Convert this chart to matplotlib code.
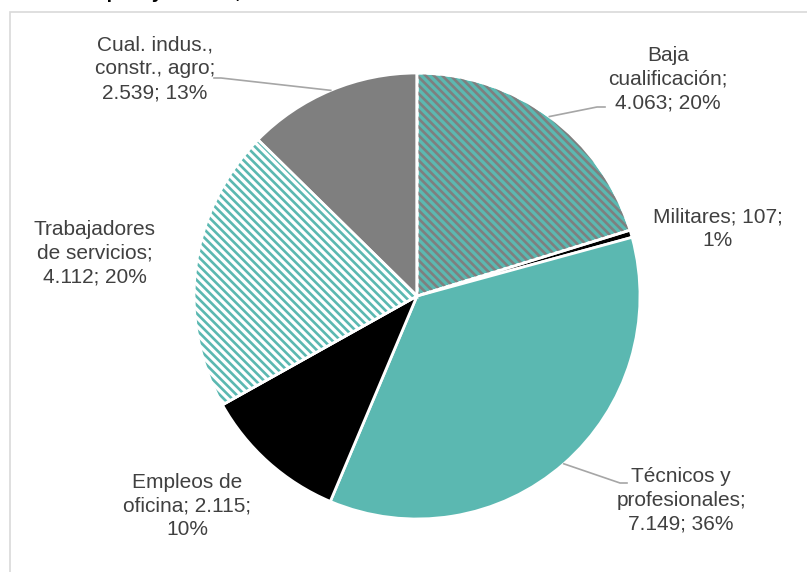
import matplotlib
matplotlib.use("Agg")
import matplotlib.pyplot as plt
from matplotlib.patches import Wedge, Rectangle
from matplotlib.lines import Line2D
import numpy as np

plt.rcParams['font.family'] = ['Liberation Sans', 'DejaVu Sans']
plt.rcParams['hatch.linewidth'] = 1.9

categories = ["Baja\ncualificación", "Militares", "Técnicos y\nprofesionales",
              "Empleos de\noficina", "Trabajadores\nde servicios", "Cual. indus.,\nconstr., agro"]
values = [4063, 107, 7149, 2115, 4112, 2539]
label_texts = ["Baja\ncualificación;\n4.063; 20%", "Militares; 107;\n1%",
               "Técnicos y\nprofesionales;\n7.149; 36%", "Empleos de\noficina; 2.115;\n10%",
               "Trabajadores\nde servicios;\n4.112; 20%", "Cual. indus.,\nconstr., agro;\n2.539; 13%"]

TEAL = "#5bb8b1"
GRAY = "#7f7f7f"
base_colors = [TEAL, "#000000", TEAL, "#000000", "#ffffff", GRAY]
hatch_colors = [GRAY, None, None, None, TEAL, None]

W, H = 807, 572
fig = plt.figure(figsize=(W / 100, H / 100), dpi=100)

def fx(px):
    return px / W

def fy(py):
    return 1 - py / H

# frame
fig.patches.append(Rectangle((fx(10), fy(H + 20)), fx(W + 20), (H + 8) / H,
                             transform=fig.transFigure, fill=False, edgecolor="#d9d9d9", linewidth=1.2))

# cut-off title (only descenders visible in the reference)
fig.text(fx(2), fy(-1.5), "Tasa de empleo y edades, 2019", fontsize=14,
         fontweight='bold', color='#000000', va='baseline', ha='left')

cx, cy, R = 417, 296, 223
ax = fig.add_axes([fx(cx - R), fy(cy + R), 2 * R / W, 2 * R / H])
ax.axis('off')

wedges, _ = ax.pie(values, colors=base_colors, startangle=90, counterclock=False, radius=1,
                   wedgeprops=dict(edgecolor='white', linewidth=2.0))
ax.set_xlim(-1, 1)
ax.set_ylim(-1, 1)
ax.set_aspect('auto')

for w, hc in zip(wedges, hatch_colors):
    if hc is not None:
        hw = Wedge(w.center, w.r, w.theta1, w.theta2, facecolor='none', edgecolor=hc,
                   linewidth=0, hatch='\\\\\\\\', zorder=w.get_zorder() + 0.1)
        ax.add_patch(hw)
        ow = Wedge(w.center, w.r, w.theta1, w.theta2, facecolor='none', edgecolor='white',
                   linewidth=2.0, zorder=w.get_zorder() + 0.2)
        ax.add_patch(ow)

# labels (pixel layout)
label_pos = [(668, 79), (718, 229), (681, 500), (187, 506), (95, 253), (155, 69)]
for txt, (px, py) in zip(label_texts, label_pos):
    fig.text(fx(px), fy(py), txt, fontsize=15, color='#404040', ha='center', va='center',
             linespacing=1.33)

# leader lines from wedge mid-angle edge
total = sum(values)
angles = []
start = 90.0
for v in values:
    sweep = 360.0 * v / total
    angles.append(start - sweep / 2)
    start -= sweep

def edge_px(i):
    a = np.deg2rad(angles[i])
    return cx + R * np.cos(a), cy - R * np.sin(a)

leaders = {0: [(605, 107), (597, 107)], 2: [(627, 483), (620, 483)], 5: [(214, 78), (221, 78)]}
for i, pts in leaders.items():
    ex, ey = edge_px(i)
    xs = [p[0] for p in pts] + [ex]
    ys = [p[1] for p in pts] + [ey]
    fig.add_artist(Line2D([fx(x) for x in xs], [fy(y) for y in ys], transform=fig.transFigure,
                          color='#a6a6a6', linewidth=1.2))

fig.savefig("out.png", dpi=100)
